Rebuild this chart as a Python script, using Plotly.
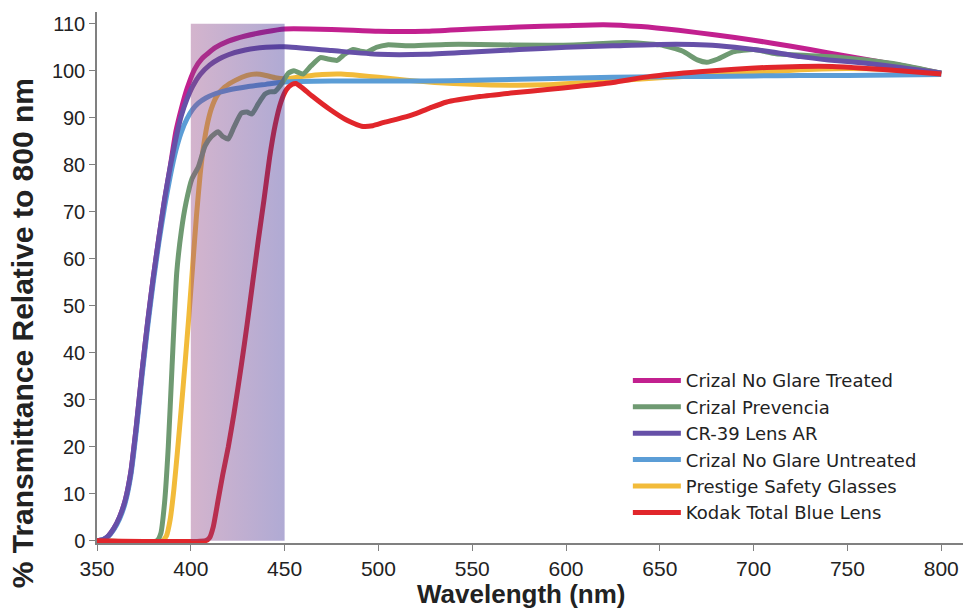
import plotly.graph_objects as go

# ---------------- data ----------------
wl_treated = [350, 353, 356, 359, 362, 365, 368, 371, 374, 377, 380, 383, 386, 389, 392, 395, 398, 402, 406, 413, 420, 429, 440, 450,
              475, 500, 525, 550, 575, 600, 620, 640, 660, 680, 700, 720, 740, 760, 780, 800]
t_treated = [0, 0.2, 1, 2.6, 5, 8.5, 14.5, 24.5, 36, 46.5, 56, 64.5, 72.5, 79.5, 87, 92, 96.2, 100.3, 102.6, 104.9, 106.3, 107.4, 108.3, 108.9,
             108.8, 108.4, 108.4, 108.9, 109.3, 109.6, 109.8, 109.4, 108.6, 107.6, 106.5, 105.2, 103.8, 102.4, 101, 99.5]

wl_prevencia = [350, 382, 384, 386, 388, 390, 392.5, 395, 397.5, 400.6, 404, 407.6, 411, 414.5, 417, 420, 423, 427, 430, 432.6, 436, 439.5,
                442, 445, 448, 452, 455, 459.8, 464, 469, 473, 478, 482, 486.5, 490, 494, 499, 504.6, 518, 536, 554, 590, 610, 632,
                650, 662, 670, 675, 681, 689, 700, 712, 742, 760, 778, 800]
t_prevencia = [0, 0, 1.5, 8, 20, 37, 57, 66, 72, 77, 79.5, 84, 86, 87, 86, 85.5, 88, 91, 91.2, 90.8, 93, 95,
               95.5, 95.6, 97, 99.5, 100, 99.3, 101, 102.8, 102.5, 102.2, 103.5, 104.5, 104.2, 104, 105, 105.5, 105.3, 105.6, 105.6, 105.4, 105.6, 106,
               105.5, 104.2, 102.3, 101.8, 102.5, 104, 104.5, 103.6, 103, 102.3, 101.3, 99.5]

wl_cr39 = [350, 353, 356, 359, 362, 365, 368, 371, 374, 377, 380, 383, 386, 389, 392, 395, 398, 401, 405, 410, 415, 420, 429, 440, 450,
           475, 500, 525, 550, 575, 600, 625, 650, 675, 690, 710, 725, 740, 760, 780, 800]
t_cr39 = [0, 0.2, 1, 2.6, 5, 8.5, 14.5, 24.5, 36, 46.5, 56, 64.5, 72.5, 79.5, 85.5, 90.5, 94, 96.7, 99.2, 101.2, 102.5, 103.4, 104.4, 105, 105.1,
          104.3, 103.5, 103.5, 104, 104.5, 105, 105.3, 105.6, 105.5, 105, 104, 103, 102.3, 101.6, 100.6, 99.5]

wl_untreated = [350, 353, 356, 359, 362, 365, 368, 371, 374, 377, 380, 383, 386, 389, 392, 395, 398, 401, 404, 408, 413, 420, 430, 440, 450,
                475, 500, 525, 550, 575, 600, 625, 650, 675, 700, 725, 750, 775, 800]
t_untreated = [0, 0.2, 0.9, 2.4, 4.6, 8, 13.8, 23.5, 35, 45.5, 55, 63.5, 71, 77.5, 83, 87, 89.8, 91.8, 93.1, 94.2, 95.1, 95.9, 96.6, 97.1, 97.6,
               97.8, 97.8, 97.8, 98, 98.2, 98.4, 98.6, 98.7, 98.8, 98.9, 99, 99, 99.1, 99.2]

wl_prestige = [350, 385, 387, 389, 391, 393, 395, 397, 399, 401, 403, 405, 407, 409, 411, 414, 418, 424, 430, 435, 440, 445, 450,
               460, 470, 480, 490, 500, 515, 530, 550, 570, 590, 610, 630, 650, 675, 700, 725, 750, 775, 800]
t_prestige = [0, 0, 1, 4.5, 11, 19.5, 28.5, 38, 48, 58.5, 69, 78, 84.5, 89, 92, 94.7, 96.5, 98, 99, 99.3, 99, 98.5, 98.3,
              98.8, 99.2, 99.3, 99, 98.6, 98, 97.5, 97.1, 96.9, 97, 97.5, 98, 98.5, 99, 99.6, 100.2, 100.5, 100.2, 99.5]

wl_kodak = [350, 408, 410, 412, 414.5, 417, 420, 423, 427, 430, 433, 436, 439, 442, 445, 448, 451, 454, 456, 459, 465, 474, 483, 491,
            497, 503, 510, 518, 527, 536, 554, 572, 590, 607, 625, 645, 671, 690, 707, 725, 742, 760, 778, 800]
t_kodak = [0, 0, 0.6, 3, 8.5, 14, 20, 27, 37.5, 46, 55, 64, 72.5, 81.5, 88.5, 93.3, 96, 97.1, 97.3, 96.5, 94.5, 91.8, 89.5, 88.2,
           88.3, 89, 89.7, 90.6, 92, 93.3, 94.5, 95.3, 96, 96.7, 97.5, 98.8, 99.8, 100.3, 100.7, 100.9, 100.9, 100.5, 100, 99.3]

series_names = ["Crizal No Glare Treated", "Crizal Prevencia", "CR-39 Lens AR",
                "Crizal No Glare Untreated", "Prestige Safety Glasses", "Kodak Total Blue Lens"]

# blue-light band
band_lo, band_hi, band_top = 400, 450, 110

x_ticks = [350, 400, 450, 500, 550, 600, 650, 700, 750, 800]
y_ticks = [0, 10, 20, 30, 40, 50, 60, 70, 80, 90, 100, 110]

# ---------------- figure ----------------
colors = {
    "Crizal No Glare Treated": "#c2208f",
    "Crizal Prevencia": "#6f9a72",
    "CR-39 Lens AR": "#6650a8",
    "Crizal No Glare Untreated": "#5b9dd6",
    "Prestige Safety Glasses": "#f2bb3a",
    "Kodak Total Blue Lens": "#e1262b",
}
data = {
    "Crizal No Glare Treated": (wl_treated, t_treated),
    "Crizal Prevencia": (wl_prevencia, t_prevencia),
    "CR-39 Lens AR": (wl_cr39, t_cr39),
    "Crizal No Glare Untreated": (wl_untreated, t_untreated),
    "Prestige Safety Glasses": (wl_prestige, t_prestige),
    "Kodak Total Blue Lens": (wl_kodak, t_kodak),
}
draw_order = ["Crizal No Glare Treated", "Prestige Safety Glasses", "Crizal No Glare Untreated",
              "Crizal Prevencia", "CR-39 Lens AR", "Kodak Total Blue Lens"]

fig = go.Figure()
for name in draw_order:
    xs, ys = data[name]
    fig.add_trace(go.Scatter(
        x=xs, y=ys, mode="lines", name=name,
        line=dict(color=colors[name], width=5, shape="spline", smoothing=0.5),
        legendrank=series_names.index(name) + 1,
        hoverinfo="skip",
    ))

# gradient band drawn over the curves
fig.add_trace(go.Scatter(
    x=[band_lo, band_hi, band_hi, band_lo, band_lo],
    y=[0, 0, band_top, band_top, 0],
    mode="lines", fill="toself",
    fillgradient=dict(type="horizontal",
                      colorscale=[[0, "rgba(147,68,130,0.4)"], [1, "rgba(57,43,147,0.4)"]]),
    line=dict(width=0), showlegend=False, hoverinfo="skip",
))

axis_font = "Liberation Sans, Arial, sans-serif"
fig.update_layout(
    width=963, height=611,
    margin=dict(l=97, r=0, t=12, b=68),
    plot_bgcolor="white", paper_bgcolor="white",
    showlegend=True,
    legend=dict(x=0.613, y=0.3405, xanchor="left", yanchor="top",
                bgcolor="rgba(0,0,0,0)", borderwidth=0,
                font=dict(family="DejaVu Sans", size=18, color="#222"),
                itemwidth=48, tracegroupgap=0),
    xaxis=dict(range=[350, 811.6], tickvals=x_ticks, ticks="outside", ticklen=6,
               tickcolor="#808080", showline=True, linecolor="#808080", linewidth=1.5,
               showgrid=False, zeroline=False,
               tickfont=dict(family=axis_font, size=21, color="#222")),
    yaxis=dict(range=[-0.5, 112.5], tickvals=y_ticks, ticks="outside", ticklen=6,
               tickcolor="#808080", showline=True, linecolor="#808080", linewidth=1.5,
               showgrid=False, zeroline=False,
               tickfont=dict(family=axis_font, size=20, color="#222")),
    annotations=[
        dict(text="<b>Wavelength (nm)</b>", xref="paper", yref="paper",
             x=0.49, y=-0.096, xanchor="center", yanchor="middle", showarrow=False,
             font=dict(family=axis_font, size=26, color="#222")),
        dict(text="<b>% Transmittance Relative to 800 nm</b>", xref="paper", yref="paper",
             x=-0.0866, y=0.395, xanchor="center", yanchor="middle", showarrow=False,
             textangle=-90, font=dict(family=axis_font, size=30, color="#222")),
    ],
)

fig.write_html("out.html")
